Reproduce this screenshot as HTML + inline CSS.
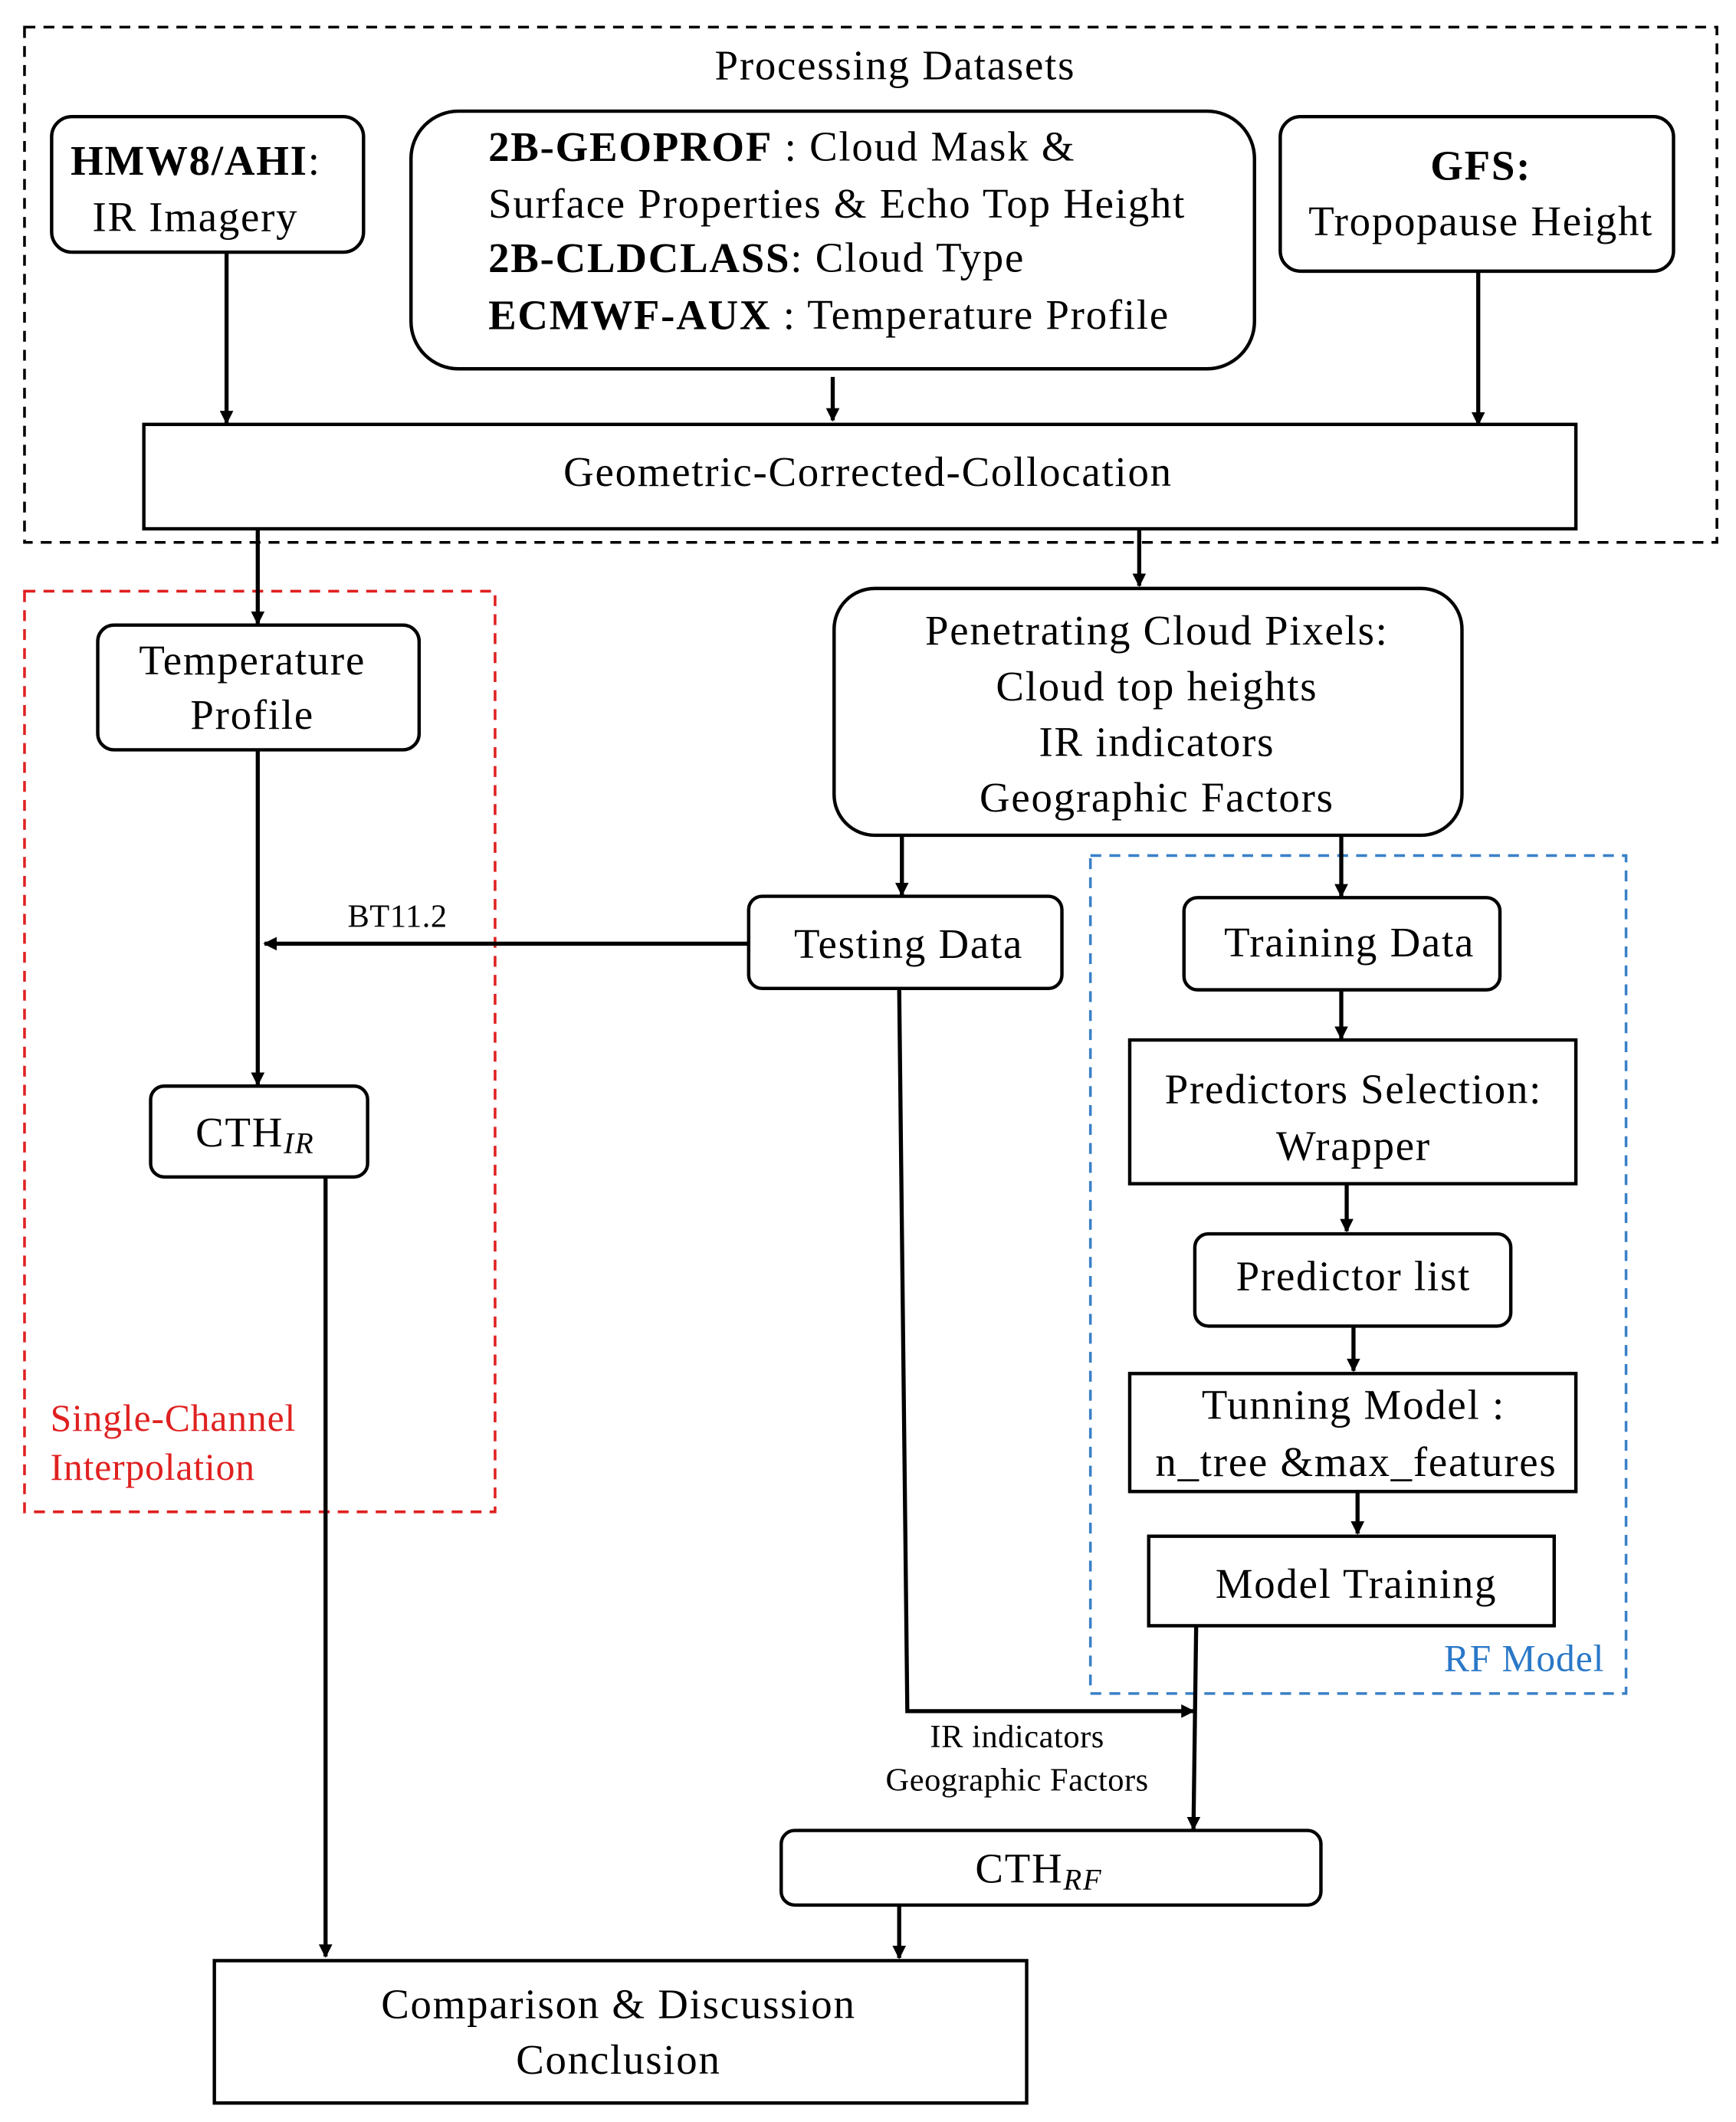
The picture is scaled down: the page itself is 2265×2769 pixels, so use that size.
<!DOCTYPE html>
<html><head><meta charset="utf-8"><style>
html,body{margin:0;padding:0;background:#fff;}
svg{display:block;}
text{font-family:"Liberation Serif",serif;font-size:31px;letter-spacing:1px;fill:#000;dominant-baseline:central;}
.s{font-size:24px;letter-spacing:0.3px;}
.r{font-size:28px;letter-spacing:0.5px;}
.sub{font-size:22px;font-style:italic;}
</style></head><body>
<svg width="2265" height="2769" viewBox="0 0 1280 1565" xmlns="http://www.w3.org/2000/svg">
<defs><marker id="a" markerWidth="10" markerHeight="10" refX="9" refY="5" orient="auto" markerUnits="userSpaceOnUse"><path d="M0,0 L10,5 L0,10 z" fill="#000"/></marker></defs>
<g fill="none" stroke-width="2">
<rect x="18" y="20" width="1248" height="380" stroke="#000" stroke-dasharray="8,6"/>
<rect x="18" y="436" width="347" height="679" stroke="#e02020" stroke-dasharray="8,6"/>
<rect x="804" y="631" width="395" height="618" stroke="#3a80c8" stroke-dasharray="8,6"/>
</g>
<g fill="none" stroke="#000" stroke-width="2.5">
<rect x="38" y="86" width="230" height="100" rx="15"/>
<rect x="303" y="82" width="622" height="190" rx="35"/>
<rect x="944" y="86" width="290" height="114" rx="15"/>
<rect x="106" y="313" width="1056" height="77"/>
<rect x="72" y="461" width="237" height="92" rx="12"/>
<rect x="111" y="801" width="160" height="67" rx="10"/>
<rect x="615" y="434" width="463" height="182" rx="30"/>
<rect x="552" y="661" width="231" height="68" rx="10"/>
<rect x="873" y="662" width="233" height="68" rx="10"/>
<rect x="833" y="767" width="329" height="106"/>
<rect x="881" y="910" width="233" height="68" rx="10"/>
<rect x="833" y="1013" width="329" height="87"/>
<rect x="847" y="1133" width="299" height="66"/>
<rect x="576" y="1350" width="398" height="55" rx="10"/>
<rect x="158" y="1446" width="599" height="105"/>
</g>
<g stroke="#000" stroke-width="3" fill="none" marker-end="url(#a)">
<line x1="167" y1="186" x2="167" y2="312"/>
<line x1="614" y1="278" x2="614" y2="310"/>
<line x1="1090" y1="200" x2="1090" y2="313"/>
<line x1="190" y1="390" x2="190" y2="460"/>
<line x1="840" y1="390" x2="840" y2="432"/>
<line x1="190" y1="553" x2="190" y2="800"/>
<line x1="240" y1="868" x2="240" y2="1443"/>
<line x1="665" y1="616" x2="665" y2="660"/>
<line x1="989" y1="616" x2="989" y2="661"/>
<line x1="552" y1="696" x2="195" y2="696"/>
<line x1="989" y1="730" x2="989" y2="766"/>
<line x1="993" y1="873" x2="993" y2="908"/>
<line x1="998" y1="978" x2="998" y2="1011"/>
<line x1="1001" y1="1100" x2="1001" y2="1131"/>
<line x1="882" y1="1199" x2="880" y2="1349"/>
<polyline points="663,729 669,1262 880,1262"/>
<line x1="663" y1="1405" x2="663" y2="1444"/>
</g>
<text x="660" y="48" text-anchor="middle">Processing Datasets</text>
<text x="52" y="118"><tspan font-weight="bold">HMW8/AHI</tspan>:</text>
<text x="68" y="160">IR Imagery</text>
<text x="360" y="108"><tspan font-weight="bold">2B-GEOPROF</tspan> : Cloud Mask &amp;</text>
<text x="360" y="150">Surface Properties &amp; Echo Top Height</text>
<text x="360" y="190"><tspan font-weight="bold">2B-CLDCLASS</tspan>: Cloud Type</text>
<text x="360" y="232"><tspan font-weight="bold">ECMWF-AUX</tspan> : Temperature Profile</text>
<text x="1092" y="122" text-anchor="middle" font-weight="bold">GFS:</text>
<text x="1092" y="163" text-anchor="middle">Tropopause Height</text>
<text x="640" y="348" text-anchor="middle">Geometric-Corrected-Collocation</text>
<text x="186" y="487" text-anchor="middle">Temperature</text>
<text x="186" y="527" text-anchor="middle">Profile</text>
<text x="188" y="835" text-anchor="middle">CTH<tspan class="sub" dy="8">IR</tspan></text>
<text x="37" y="1046" style="fill:#e02020" class="r">Single-Channel</text>
<text x="37" y="1082" style="fill:#e02020" class="r">Interpolation</text>
<text x="853" y="465" text-anchor="middle">Penetrating Cloud Pixels:</text>
<text x="853" y="506" text-anchor="middle">Cloud top heights</text>
<text x="853" y="547" text-anchor="middle">IR indicators</text>
<text x="853" y="588" text-anchor="middle">Geographic Factors</text>
<text x="670" y="696" text-anchor="middle">Testing Data</text>
<text x="293" y="676" text-anchor="middle" class="s">BT11.2</text>
<text x="995" y="695" text-anchor="middle">Training Data</text>
<text x="998" y="803" text-anchor="middle">Predictors Selection:</text>
<text x="998" y="845" text-anchor="middle">Wrapper</text>
<text x="998" y="941" text-anchor="middle">Predictor list</text>
<text x="998" y="1036" text-anchor="middle">Tunning Model :</text>
<text x="1000" y="1078" text-anchor="middle">n_tree &amp;max_features</text>
<text x="1000" y="1168" text-anchor="middle">Model Training</text>
<text x="1183" y="1223" text-anchor="end" style="fill:#2a78c8" class="r">RF Model</text>
<text x="750" y="1281" text-anchor="middle" class="s">IR indicators</text>
<text x="750" y="1313" text-anchor="middle" class="s">Geographic Factors</text>
<text x="766" y="1378" text-anchor="middle">CTH<tspan class="sub" dy="8">RF</tspan></text>
<text x="456" y="1478" text-anchor="middle">Comparison &amp; Discussion</text>
<text x="456" y="1519" text-anchor="middle">Conclusion</text>
</svg>
</body></html>
